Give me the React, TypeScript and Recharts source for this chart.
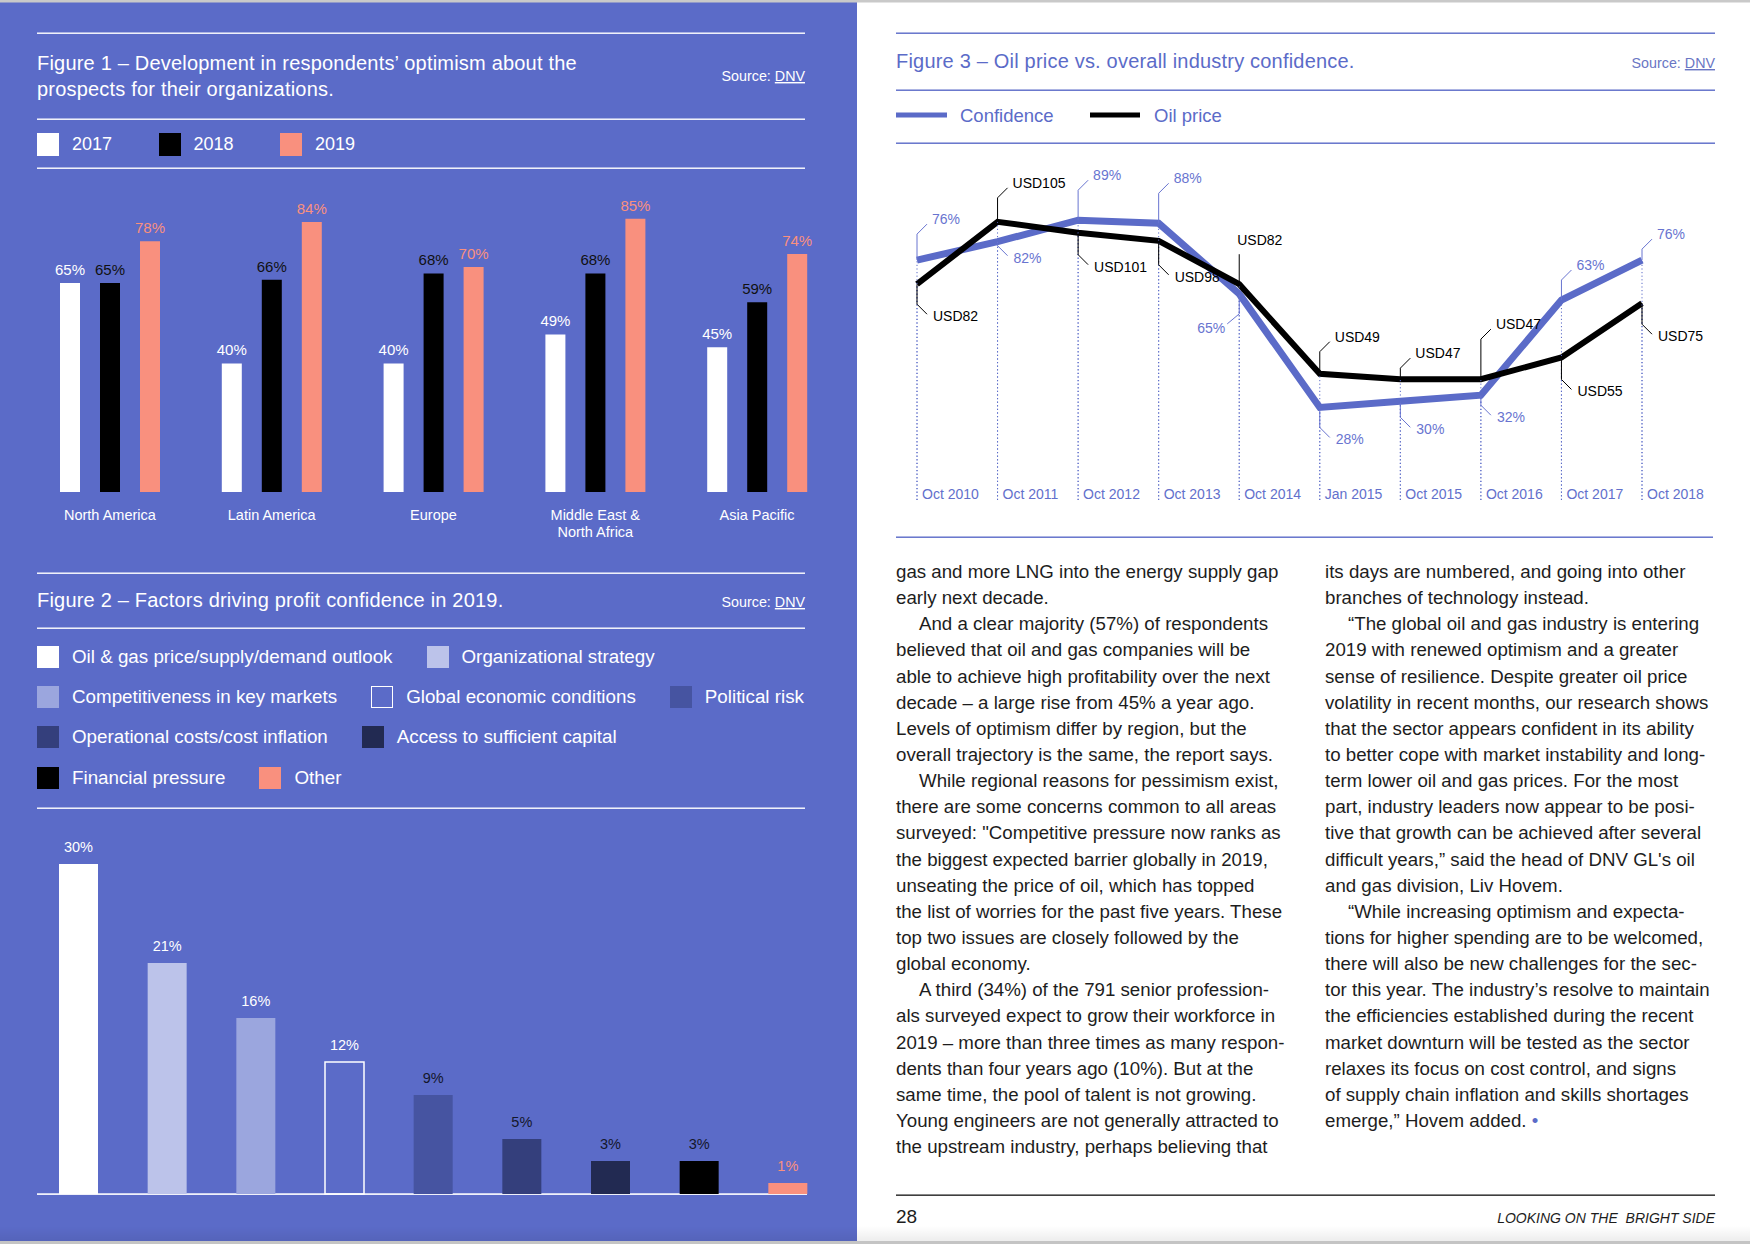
import React from 'react';
import { BarChart, Bar, XAxis, YAxis, LabelList, Cell, LineChart, Line } from 'recharts';

// ---------------- data ----------------
const regions = ['North America', 'Latin America', 'Europe', 'Middle East &\nNorth Africa', 'Asia Pacific'];
const years = ['2017', '2018', '2019'];
const optimism2017 = [65, 40, 40, 49, 45];
const optimism2018 = [65, 66, 68, 68, 59];
const optimism2019 = [78, 84, 70, 85, 74];

const factors = [
  'Oil & gas price/supply/demand outlook',
  'Organizational strategy',
  'Competitiveness in key markets',
  'Global economic conditions',
  'Political risk',
  'Operational costs/cost inflation',
  'Access to sufficient capital',
  'Financial pressure',
  'Other',
];
const factorShares = [30, 21, 16, 12, 9, 5, 3, 3, 1];

const periods = ['Oct 2010', 'Oct 2011', 'Oct 2012', 'Oct 2013', 'Oct 2014', 'Jan 2015', 'Oct 2015', 'Oct 2016', 'Oct 2017', 'Oct 2018'];
const confidence = [76, 82, 89, 88, 65, 28, 30, 32, 63, 76];
const oilPrice = [82, 105, 101, 98, 82, 49, 47, 47, 55, 75];

const column1: [string, boolean][] = [
  ['gas and more LNG into the energy supply gap', false],
  ['early next decade.', false],
  ['And a clear majority (57%) of respondents', true],
  ['believed that oil and gas companies will be', false],
  ['able to achieve high profitability over the next', false],
  ['decade – a large rise from 45% a year ago.', false],
  ['Levels of optimism differ by region, but the', false],
  ['overall trajectory is the same, the report says.', false],
  ['While regional reasons for pessimism exist,', true],
  ['there are some concerns common to all areas', false],
  ['surveyed: "Competitive pressure now ranks as', false],
  ['the biggest expected barrier globally in 2019,', false],
  ['unseating the price of oil, which has topped', false],
  ['the list of worries for the past five years. These', false],
  ['top two issues are closely followed by the', false],
  ['global economy.', false],
  ['A third (34%) of the 791 senior profession-', true],
  ['als surveyed expect to grow their workforce in', false],
  ['2019 – more than three times as many respon-', false],
  ['dents than four years ago (10%). But at the', false],
  ['same time, the pool of talent is not growing.', false],
  ['Young engineers are not generally attracted to', false],
  ['the upstream industry, perhaps believing that', false],
];
const column2: [string, boolean][] = [
  ['its days are numbered, and going into other', false],
  ['branches of technology instead.', false],
  ['\u201CThe global oil and gas industry is entering', true],
  ['2019 with renewed optimism and a greater', false],
  ['sense of resilience. Despite greater oil price', false],
  ['volatility in recent months, our research shows', false],
  ['that the sector appears confident in its ability', false],
  ['to better cope with market instability and long-', false],
  ['term lower oil and gas prices. For the most', false],
  ['part, industry leaders now appear to be posi-', false],
  ['tive that growth can be achieved after several', false],
  ['difficult years,\u201D said the head of DNV GL\'s oil', false],
  ['and gas division, Liv Hovem.', false],
  ['\u201CWhile increasing optimism and expecta-', true],
  ['tions for higher spending are to be welcomed,', false],
  ['there will also be new challenges for the sec-', false],
  ['tor this year. The industry\u2019s resolve to maintain', false],
  ['the efficiencies established during the recent', false],
  ['market downturn will be tested as the sector', false],
  ['relaxes its focus on cost control, and signs', false],
  ['of supply chain inflation and skills shortages', false],
  ['emerge,\u201D Hovem added.', false],
];

// ---------------- styles ----------------
const FONT = '"Liberation Sans", Arial, Helvetica, sans-serif';
const PANEL = '#5B6BC8';
const SALMON = '#F9907E';
const LINEBLUE = '#5B6BC8';
const LABELBLUE = '#6874D0';
const TEXT = '#1d1d1d';

const yearColors = ['#FFFFFF', '#000000', SALMON];
const yearLabelColors = ['#FFFFFF', '#111111', SALMON];
const yearKeys = ['y2017', 'y2018', 'y2019'];
const factorFills = ['#FFFFFF', '#BCC3EA', '#9BA6DE', 'transparent', '#4654A1', '#343F7C', '#222A52', '#000000', SALMON];
const factorLabelColors = ['#FFFFFF', '#FFFFFF', '#FFFFFF', '#FFFFFF', '#14172B', '#14172B', '#14172B', '#14172B', SALMON];
const legendRows = [[0, 1], [2, 3, 4], [5, 6], [7, 8]];

type Leader = { dir: 'up' | 'down' | 'downLeft' | 'upStraight'; len: number };
const confLeaders: Leader[] = [
  { dir: 'up', len: 26 }, { dir: 'down', len: 4 }, { dir: 'up', len: 30 }, { dir: 'up', len: 30 },
  { dir: 'downLeft', len: 20 }, { dir: 'down', len: 20 }, { dir: 'down', len: 16 }, { dir: 'down', len: 10 },
  { dir: 'up', len: 20 }, { dir: 'up', len: 11 },
];
const oilLeaders: Leader[] = [
  { dir: 'down', len: 20 }, { dir: 'up', len: 24 }, { dir: 'down', len: 22 }, { dir: 'down', len: 24 },
  { dir: 'upStraight', len: 30 }, { dir: 'up', len: 22 }, { dir: 'up', len: 11 }, { dir: 'up', len: 40 },
  { dir: 'down', len: 22 }, { dir: 'down', len: 21 },
];

// ---------------- chart data ----------------
const fig1Data = regions.map((r, i) => ({ region: r, y2017: optimism2017[i], y2018: optimism2018[i], y2019: optimism2019[i] }));
const fig2Data = factors.map((f, i) => ({ factor: f, share: factorShares[i] }));
const fig3Data = periods.map((p, i) => ({ period: p, confidence: confidence[i], oil: oilPrice[i] }));

// ---------------- helpers ----------------
const Fig1Tick = (p: any) => {
  const lines = String(p.payload.value).split('\n');
  return (
    <text x={p.x} y={370} textAnchor="middle" fill="#FFFFFF" fontSize={14.5} fontFamily={FONT}>
      {lines.map((l, i) => (
        <tspan key={i} x={p.x} dy={i === 0 ? 0 : 17}>{l}</tspan>
      ))}
    </text>
  );
};

const Fig2Label = (props: any) => {
  const vb = props.viewBox || {};
  const x = vb.x ?? props.x;
  const y = vb.y ?? props.y;
  const w = vb.width ?? props.width;
  const i = props.index ?? 0;
  return (
    <text x={x + w / 2} y={y - 12} textAnchor="middle" fill={factorLabelColors[i]} fontSize={14.5} fontFamily={FONT}>
      {props.value}%
    </text>
  );
};

const Fig3Tick = (p: any) => (
  <text x={p.x + 5} y={349} textAnchor="start" fill="#6270CC" fontSize={14} fontFamily={FONT}>
    {p.payload.value}
  </text>
);

const DOT_BOTTOM = 350;

function makeDot(leaders: Leader[], color: string, fmt: (v: number) => string, key: string) {
  return (p: any) => {
    const { cx, cy, index } = p;
    const v = p.payload ? p.payload[key] : p.value;
    const l = leaders[index];
    let d = '';
    let tx = 0;
    let ty = 0;
    let anchor: 'start' | 'end' = 'start';
    if (l.dir === 'up') {
      const y1 = cy - l.len;
      d = `M${cx},${cy}V${y1}L${cx + 10},${y1 - 10}`;
      tx = cx + 15; ty = y1 - 10;
    } else if (l.dir === 'down') {
      const y1 = cy + l.len;
      d = `M${cx},${cy}V${y1}L${cx + 10},${y1 + 10}`;
      tx = cx + 16; ty = y1 + 17;
    } else if (l.dir === 'downLeft') {
      const y1 = cy + l.len;
      d = `M${cx},${cy}V${y1}L${cx - 12},${y1 + 10}`;
      tx = cx - 14; ty = y1 + 19; anchor = 'end';
    } else {
      const y1 = cy - l.len;
      d = `M${cx},${cy}V${y1}`;
      tx = cx - 2; ty = y1 - 9;
    }
    return (
      <g key={`${key}-dot-${index}`}>
        <line x1={cx} x2={cx} y1={DOT_BOTTOM} y2={cy} stroke={LINEBLUE} strokeWidth={1} strokeDasharray="1.2 2.4" />
        <path d={d} fill="none" stroke={color} strokeWidth={1} />
        <text x={tx} y={ty} textAnchor={anchor} fill={color} fontSize={14} fontFamily={FONT}>{fmt(v)}</text>
      </g>
    );
  };
}

const confDot = makeDot(confLeaders, LABELBLUE, (v) => `${v}%`, 'confidence');
const oilDot = makeDot(oilLeaders, '#000000', (v) => `USD${v}`, 'oil');

const abs = (left: number, top: number): React.CSSProperties => ({ position: 'absolute', left, top });

export default function App() {
  return (
    <div style={{ position: 'absolute', left: 0, top: 0, width: 1750, height: 1244, overflow: 'hidden', background: '#fff', fontFamily: FONT }}>
      {/* background / static text */}
      <svg width={1750} height={1244} style={abs(0, 0)} fontFamily={FONT}>
        <rect x={0} y={0} width={857} height={1244} fill={PANEL} />
        <rect x={0} y={0} width={1750} height={2.5} fill="#c9c9c9" />

        {/* Figure 1 header */}
        <rect x={37} y={32.5} width={768} height={1.4} fill="#fff" />
        <text x={37} y={70} fill="#fff" fontSize={20} letterSpacing={0.2}>Figure 1 – Development in respondents’ optimism about the</text>
        <text x={37} y={96} fill="#fff" fontSize={20} letterSpacing={0.2}>prospects for their organizations.</text>
        <text x={805} y={81} fill="#fff" fontSize={14.3} textAnchor="end">Source: <tspan style={{ textDecoration: 'underline' }}>DNV</tspan></text>
        <rect x={37} y={118.5} width={768} height={1.4} fill="#fff" />
        <rect x={37} y={167.5} width={768} height={1.4} fill="#fff" />

        {/* Figure 2 header */}
        <rect x={37} y={572.5} width={768} height={1.4} fill="#fff" />
        <text x={37} y={607} fill="#fff" fontSize={20} letterSpacing={0.2}>Figure 2 – Factors driving profit confidence in 2019.</text>
        <text x={805} y={607} fill="#fff" fontSize={14.3} textAnchor="end">Source: <tspan style={{ textDecoration: 'underline' }}>DNV</tspan></text>
        <rect x={37} y={627.5} width={768} height={1.4} fill="#fff" />
        <rect x={37} y={807.5} width={768} height={1.4} fill="#fff" />
        <rect x={37} y={1193.3} width={770} height={1.6} fill="#fff" />

        {/* Figure 3 header */}
        <rect x={896} y={32.5} width={819} height={1.4} fill={LINEBLUE} />
        <text x={896} y={68} fill={LINEBLUE} fontSize={20} letterSpacing={0.2}>Figure 3 – Oil price vs. overall industry confidence.</text>
        <text x={1715} y={68} fill="#6a76c4" fontSize={14.3} textAnchor="end">Source: <tspan style={{ textDecoration: 'underline' }}>DNV</tspan></text>
        <rect x={896} y={89.5} width={819} height={1.4} fill={LINEBLUE} />
        <line x1={896} x2={947} y1={115} y2={115} stroke={LINEBLUE} strokeWidth={5} />
        <text x={960} y={122} fill={LINEBLUE} fontSize={18.5}>Confidence</text>
        <line x1={1090} x2={1140} y1={115} y2={115} stroke="#000" strokeWidth={5} />
        <text x={1154} y={122} fill={LINEBLUE} fontSize={18.5}>Oil price</text>
        <rect x={896} y={142.5} width={819} height={1.4} fill={LINEBLUE} />
        <rect x={896} y={536.5} width={817} height={1.4} fill={LINEBLUE} />

        {/* body text */}
        {column1.map(([t, ind], i) => (
          <text key={`c1-${i}`} x={ind ? 919 : 896} y={578 + i * 26.14} fill={TEXT} fontSize={18.7}>{t}</text>
        ))}
        {column2.map(([t, ind], i) => (
          <text key={`c2-${i}`} x={ind ? 1348 : 1325} y={578 + i * 26.14} fill={TEXT} fontSize={18.7}>
            {t}
            {i === column2.length - 1 ? <tspan fill={LINEBLUE}> •</tspan> : null}
          </text>
        ))}

        {/* footer */}
        <rect x={896} y={1194.5} width={819} height={1.3} fill="#111" />
        <text x={896} y={1223} fill={TEXT} fontSize={19}>28</text>
        <text x={1715} y={1223} fill={TEXT} fontSize={14} fontStyle="italic" textAnchor="end" style={{ whiteSpace: 'pre' }}>LOOKING ON THE  BRIGHT SIDE</text>
      </svg>

      {/* Figure 1 legend */}
      <div style={{ ...abs(37, 133), display: 'flex', alignItems: 'center', height: 23 }}>
        {years.map((y, i) => (
          <div key={y} style={{ display: 'flex', alignItems: 'center', width: 121.5 }}>
            <div style={{ width: 22, height: 23, background: yearColors[i], marginRight: 13 }} />
            <span style={{ color: '#fff', fontSize: 18, lineHeight: '23px' }}>{y}</span>
          </div>
        ))}
      </div>

      {/* Figure 1 chart */}
      <div style={abs(0, 150)}>
        <BarChart width={857} height={400} data={fig1Data} margin={{ top: 20.5, right: 19, bottom: 8, left: 29 }} barSize={20} barGap={20}>
          <XAxis dataKey="region" axisLine={false} tickLine={false} tickSize={0} tickMargin={0} height={50} interval={0} tick={(p: any) => <Fig1Tick {...p} />} />
          <YAxis hide domain={[0, 100]} />
          {yearKeys.map((k, i) => (
            <Bar key={k} dataKey={k} fill={yearColors[i]} isAnimationActive={false}>
              <LabelList dataKey={k} position="top" offset={8} fill={yearLabelColors[i]} fontSize={15} fontFamily={FONT} formatter={(v: any) => `${v}%`} />
            </Bar>
          ))}
        </BarChart>
      </div>

      {/* Figure 2 legend */}
      {legendRows.map((row, r) => (
        <div key={`lr-${r}`} style={{ ...abs(37, 645.5 + r * 40.4), display: 'flex', alignItems: 'center', height: 22, whiteSpace: 'nowrap' }}>
          {row.map((i) => (
            <div key={i} style={{ display: 'flex', alignItems: 'center', marginRight: 34 }}>
              <div
                style={{
                  width: 22,
                  height: 22,
                  boxSizing: 'border-box',
                  background: factorFills[i],
                  border: factorFills[i] === 'transparent' ? '1.5px solid #fff' : 'none',
                  marginRight: 13,
                }}
              />
              <span style={{ color: '#fff', fontSize: 18.8, lineHeight: '22px' }}>{factors[i]}</span>
            </div>
          ))}
        </div>
      ))}

      {/* Figure 2 chart */}
      <div style={abs(0, 820)}>
        <BarChart width={857} height={424} data={fig2Data} margin={{ top: 22, right: 25, bottom: 50, left: 34 }} barSize={39}>
          <XAxis dataKey="factor" hide />
          <YAxis hide domain={[0, 32]} />
          <Bar dataKey="share" isAnimationActive={false}>
            {fig2Data.map((d, i) => (
              <Cell
                key={d.factor}
                fill={factorFills[i]}
                stroke={factorFills[i] === 'transparent' ? '#FFFFFF' : 'none'}
                strokeWidth={factorFills[i] === 'transparent' ? 1.5 : 0}
              />
            ))}
            <LabelList dataKey="share" content={(p: any) => <Fig2Label {...p} />} />
          </Bar>
        </BarChart>
      </div>

      {/* Figure 3 chart */}
      <div style={abs(860, 150)}>
        <LineChart width={890} height={400} data={fig3Data} margin={{ top: 26, right: 108, bottom: 10, left: 57 }}>
          <XAxis dataKey="period" axisLine={false} tickLine={false} height={30} interval={0} tick={(p: any) => <Fig3Tick {...p} />} />
          <YAxis yAxisId="c" hide domain={[-5.4, 103.4]} />
          <YAxis yAxisId="o" hide domain={[-1.25, 121.9]} />
          <Line yAxisId="c" type="linear" dataKey="confidence" stroke={LINEBLUE} strokeWidth={7} dot={confDot} activeDot={false} isAnimationActive={false} />
          <Line yAxisId="o" type="linear" dataKey="oil" stroke="#000000" strokeWidth={6} dot={oilDot} activeDot={false} isAnimationActive={false} />
        </LineChart>
      </div>

      {/* page bottom shadow */}
      <div style={{ ...abs(0, 1226), width: 1750, height: 15, background: 'linear-gradient(rgba(0,0,0,0), rgba(0,0,0,0.07))' }} />
      <div style={{ ...abs(0, 1241), width: 1750, height: 3, background: '#c4c4c4' }} />
    </div>
  );
}
